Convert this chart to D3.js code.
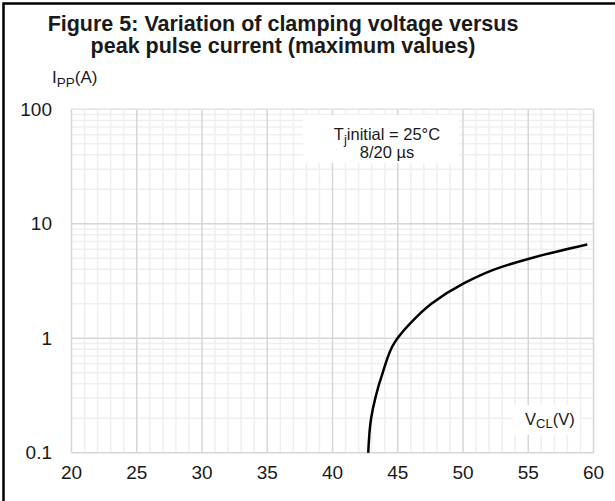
<!DOCTYPE html>
<html lang="en">
<head>
<meta charset="utf-8">
<script src="https://d3js.org/d3.v7.min.js"></script>
<style>
  body { margin: 0; background: #fff; }
  text { font-family: "Liberation Sans", Arial, sans-serif; fill: #1a1a1a; }
</style>
</head>
<body>
<div id="chart"></div>
<script>
// curve
var vcl = [42.74, 42.96, 43.28, 43.85, 44.79, 45.94, 47.6, 50.02, 52.58, 55.13, 59.52];
var ipp = [0.1, 0.2, 0.3, 0.5, 0.93, 1.34, 2.01, 3.0, 4.06, 4.98, 6.59];

var xTicks = [20, 25, 30, 35, 40, 45, 50, 55, 60];
var yTicks = [0.1, 1, 10, 100];
var yTickLabels = ["0.1", "1", "10", "100"];

var w = 615, h = 501;

var svg = d3.select("#chart").append("svg")
  .attr("width", w)
  .attr("height", h);

var x = d3.scaleLinear().domain([20, 60]).range([71.5, 593.5]);
var y = d3.scaleLog().domain([0.1, 100]).range([452.7, 109.3]);

// frame (only top and left visible)
svg.append("path")
  .attr("d", "M3.5," + h + "V3.5H" + w)
  .attr("fill", "none")
  .attr("stroke", "#000")
  .attr("stroke-width", 2.5);

// title
svg.append("text").attr("x", 283).attr("y", 31)
  .attr("text-anchor", "middle").style("font-size", "21.5px").style("font-weight", "bold")
  .text("Figure 5: Variation of clamping voltage versus");
svg.append("text").attr("x", 283).attr("y", 53)
  .attr("text-anchor", "middle").style("font-size", "21.5px").style("font-weight", "bold")
  .text("peak pulse current (maximum values)");

var grid = svg.append("g");

// minor grid
var minorX = d3.range(20, 61, 1).filter(function(d) { return d % 5 != 0; });
grid.selectAll(".mx").data(minorX).enter().append("line")
  .attr("x1", function(d) { return x(d); }).attr("x2", function(d) { return x(d); })
  .attr("y1", y(100)).attr("y2", y(0.1))
  .attr("stroke", "#efefef").attr("stroke-width", 1.5);

var minorY = [];
[0.1, 1, 10].forEach(function(dec) {
  for (var k = 2; k <= 9; k++) minorY.push(dec * k);
});
grid.selectAll(".my").data(minorY).enter().append("line")
  .attr("x1", x(20)).attr("x2", x(60))
  .attr("y1", function(d) { return y(d); }).attr("y2", function(d) { return y(d); })
  .attr("stroke", "#efefef").attr("stroke-width", 1.5);

// major grid
grid.selectAll(".Mx").data(xTicks).enter().append("line")
  .attr("x1", function(d) { return x(d); }).attr("x2", function(d) { return x(d); })
  .attr("y1", y(100)).attr("y2", y(0.1))
  .attr("stroke", "#d6d6d6").attr("stroke-width", 1.5);
grid.selectAll(".My").data(yTicks).enter().append("line")
  .attr("x1", x(20)).attr("x2", x(60))
  .attr("y1", function(d) { return y(d); }).attr("y2", function(d) { return y(d); })
  .attr("stroke", function(d) { return d == 100 ? "#e3e3e3" : "#d6d6d6"; })
  .attr("stroke-width", 1.5);

// tick labels
svg.selectAll(".xl").data(xTicks).enter().append("text")
  .attr("x", function(d) { return x(d); })
  .attr("y", 479)
  .attr("text-anchor", "middle")
  .style("font-size", "19px")
  .text(function(d) { return d; });

svg.selectAll(".yl").data(yTicks).enter().append("text")
  .attr("x", 52)
  .attr("y", function(d) { return y(d) + 6.5; })
  .attr("text-anchor", "end")
  .style("font-size", "19px")
  .text(function(d, i) { return yTickLabels[i]; });

// y axis label
var yl = svg.append("text").attr("x", 52).attr("y", 83).style("font-size", "17px");
yl.append("tspan").text("I");
yl.append("tspan").attr("dy", 4).style("font-size", "13.5px").text("PP");
yl.append("tspan").attr("dy", -4).text("(A)");

// annotation box
svg.append("rect").attr("x", 303).attr("y", 115).attr("width", 156).attr("height", 48)
  .attr("fill", "#fff");
var t1 = svg.append("text").attr("x", 387).attr("y", 140)
  .attr("text-anchor", "middle").style("font-size", "16.5px");
t1.append("tspan").text("T");
t1.append("tspan").attr("dy", 4).style("font-size", "13px").text("j");
t1.append("tspan").attr("dy", -4).text("initial = 25°C");
svg.append("text").attr("x", 387).attr("y", 158)
  .attr("text-anchor", "middle").style("font-size", "16.5px")
  .text("8/20 µs");

// x axis label box
svg.append("rect").attr("x", 513).attr("y", 405).attr("width", 67).attr("height", 30)
  .attr("fill", "#fff");
var xl = svg.append("text").attr("x", 525).attr("y", 425).style("font-size", "16.5px");
xl.append("tspan").text("V");
xl.append("tspan").attr("dy", 3).style("font-size", "13px").text("CL");
xl.append("tspan").attr("dy", -3).text("(V)");

// curve
var pts = vcl.map(function(v, i) { return [v, ipp[i]]; });
var line = d3.line()
  .x(function(d) { return x(d[0]); })
  .y(function(d) { return y(d[1]); })
  .curve(d3.curveMonotoneY);

svg.append("path").datum(pts)
  .attr("d", line)
  .attr("fill", "none")
  .attr("stroke", "#000")
  .attr("stroke-width", 2.5);
</script>
</body>
</html>
